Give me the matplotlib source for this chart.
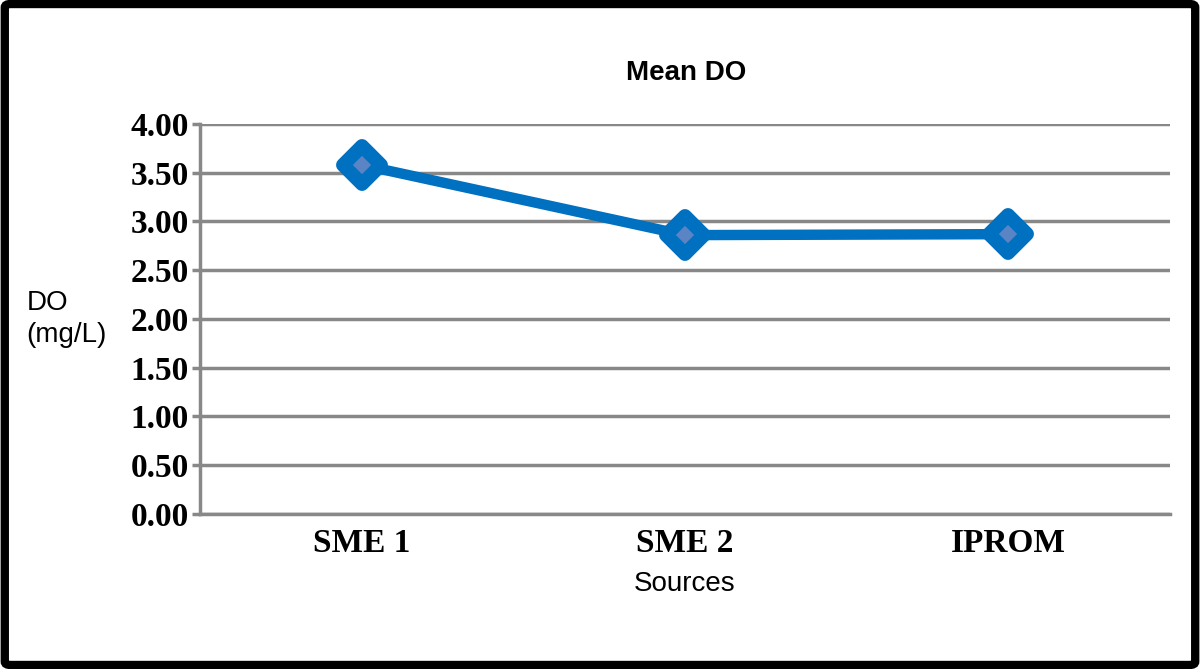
import numpy as np
import matplotlib.pyplot as plt
from matplotlib.patches import FancyBboxPatch
from matplotlib.markers import MarkerStyle

sources = ['SME 1', 'SME 2', 'IPROM']
mean_do = [3.58, 2.86, 2.87]
yticks = [0.0, 0.5, 1.0, 1.5, 2.0, 2.5, 3.0, 3.5, 4.0]

fig = plt.figure(figsize=(12, 6.69), dpi=100)
ax = fig.add_axes([0.1667, 0.2317, 0.8083, 0.583])

x = np.arange(len(sources))
ax.plot(x, mean_do, color='#0070c0', lw=7.5, zorder=3)
ax.plot(x, mean_do, ls='none', marker=MarkerStyle('D', joinstyle='round'), markersize=19,
        markerfacecolor='#5b84c4', markeredgecolor='#0070c0', markeredgewidth=10,
        zorder=4)

ax.set_xlim(-0.5, 2.5)
ax.set_ylim(0, 4.0)
ax.set_yticks(yticks)
ax.set_yticklabels(['%.2f' % v for v in yticks], fontfamily='Liberation Serif',
                   fontweight='bold', fontsize=24)
ax.set_xticks(x)
ax.set_xticklabels(sources, fontfamily='Liberation Serif', fontweight='bold', fontsize=24)
ax.tick_params(axis='x', length=0, pad=10)
ax.tick_params(axis='y', length=6, width=2.5, color='#888888', pad=2)
ax.grid(axis='y', color='#888888', lw=2.5)
ax.set_axisbelow(True)
for s in ['top', 'right']:
    ax.spines[s].set_visible(False)
for s in ['left', 'bottom']:
    ax.spines[s].set_color('#888888')
    ax.spines[s].set_linewidth(2.5)

fig.text(0.572, 0.891, 'Mean DO', ha='center', va='center', fontsize=20,
         fontweight='bold', fontfamily='Liberation Sans')
ax.set_xlabel('Sources', fontsize=20, fontfamily='Liberation Sans', labelpad=9)
fig.text(0.022, 0.523, 'DO\n(mg/L)', ha='left', va='center', fontsize=20,
         fontfamily='Liberation Sans', linespacing=1.3)

fig.patches.append(FancyBboxPatch((0.004, 0.006), 0.992, 0.988,
                                  boxstyle='round,pad=0,rounding_size=0.005',
                                  transform=fig.transFigure, fill=False,
                                  edgecolor='black', lw=6))

fig.savefig('out.png', dpi=100)
